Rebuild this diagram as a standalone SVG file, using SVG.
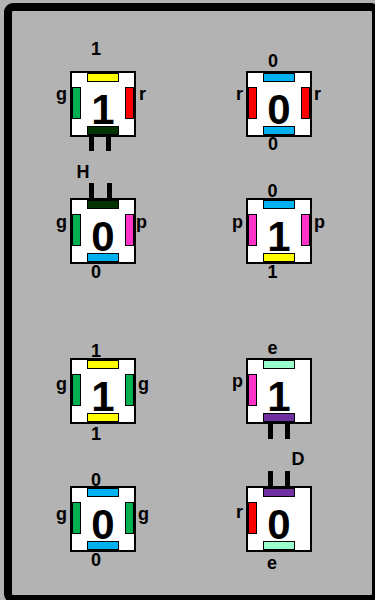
<svg xmlns="http://www.w3.org/2000/svg" width="375" height="600" viewBox="0 0 375 600">
<style>
.box{fill:#fff;stroke:#000;stroke-width:2}
.bar{stroke:#000;stroke-width:1}
.leg{fill:#000}
.lbl{font-family:"Liberation Sans",Arial,sans-serif;font-weight:bold;font-size:18px;fill:#000}
.big{font-family:"Liberation Sans",Arial,sans-serif;font-weight:bold;font-size:42px;fill:#000;text-anchor:middle}
.m{text-anchor:middle}.e{text-anchor:end}.s{text-anchor:start}
.y{fill:#ffff00}.r{fill:#ff0000}.g{fill:#00b050}.dg{fill:#003300}.b{fill:#00b0f0}.p{fill:#ff33cc}.mi{fill:#99ffcc}.pu{fill:#7030a0}
</style>
<defs>
<rect id="tb" class="bar" x="17.5" y="2.5" width="31" height="8"/>
<rect id="bb" class="bar" x="17.5" y="55.5" width="31" height="8"/>
<rect id="lb" class="bar" x="2.5" y="16.5" width="8" height="31"/>
<rect id="rb" class="bar" x="55.5" y="16.5" width="8" height="31"/>
</defs>
<rect x="0" y="0" width="375" height="600" fill="#b3b3b3"/>
<rect x="8" y="7" width="368" height="592" rx="5" fill="#b3b3b3" stroke="#000" stroke-width="8"/>
<g id="connectors"></g>
<g id="n1" transform="translate(70,71)">
<rect class="box" x="1" y="1" width="64" height="64"/>
<use href="#tb" class="y"/><use href="#lb" class="g"/><use href="#rb" class="r"/><use href="#bb" class="dg"/>
<rect class="leg" x="19" y="65" width="5" height="15"/><rect class="leg" x="36" y="65" width="5" height="15"/>
<text class="big" x="33" y="53">1</text>
<text class="lbl m" x="26" y="-16">1</text>
<text class="lbl e" x="-3" y="29">g</text>
<text class="lbl s" x="69" y="29">r</text>
</g>
<g id="n2" transform="translate(246,71)">
<rect class="box" x="1" y="1" width="64" height="64"/>
<use href="#tb" class="b"/><use href="#lb" class="r"/><use href="#rb" class="r"/><use href="#bb" class="b"/>
<text class="big" x="33" y="53">0</text>
<text class="lbl m" x="27" y="-4">0</text>
<text class="lbl m" x="27" y="79">0</text>
<text class="lbl e" x="-3" y="29">r</text>
<text class="lbl s" x="68" y="29">r</text>
</g>
<g id="n3" transform="translate(70,198)">
<rect class="box" x="1" y="1" width="64" height="64"/>
<use href="#tb" class="dg"/><use href="#lb" class="g"/><use href="#rb" class="p"/><use href="#bb" class="b"/>
<rect class="leg" x="19" y="-15" width="5" height="16"/><rect class="leg" x="37" y="-15" width="5" height="16"/>
<text class="big" x="33" y="53">0</text>
<text class="lbl m" x="13" y="-20">H</text>
<text class="lbl m" x="26" y="80">0</text>
<text class="lbl e" x="-3" y="30">g</text>
<text class="lbl s" x="66" y="30">p</text>
</g>
<g id="n4" transform="translate(246,198)">
<rect class="box" x="1" y="1" width="64" height="64"/>
<use href="#tb" class="b"/><use href="#lb" class="p"/><use href="#rb" class="p"/><use href="#bb" class="y"/>
<text class="big" x="33" y="53">1</text>
<text class="lbl m" x="26.5" y="-1">0</text>
<text class="lbl m" x="26.5" y="80">1</text>
<text class="lbl e" x="-3" y="30">p</text>
<text class="lbl s" x="68" y="30">p</text>
</g>
<g id="n5" transform="translate(70,358)">
<rect class="box" x="1" y="1" width="64" height="64"/>
<use href="#tb" class="y"/><use href="#lb" class="g"/><use href="#rb" class="g"/><use href="#bb" class="y"/>
<text class="big" x="33" y="53">1</text>
<text class="lbl m" x="26" y="-1">1</text>
<text class="lbl m" x="26" y="82">1</text>
<text class="lbl e" x="-3" y="32">g</text>
<text class="lbl s" x="68" y="32">g</text>
</g>
<g id="n6" transform="translate(246,358)">
<rect class="box" x="1" y="1" width="64" height="64"/>
<use href="#tb" class="mi"/><use href="#lb" class="p"/><use href="#bb" class="pu"/>
<rect class="leg" x="22" y="65" width="5" height="16"/><rect class="leg" x="39" y="65" width="5" height="16"/>
<text class="big" x="33" y="53">1</text>
<text class="lbl m" x="26.5" y="-4">e</text>
<text class="lbl e" x="-3" y="29">p</text>
</g>
<g id="n7" transform="translate(70,486)">
<rect class="box" x="1" y="1" width="64" height="64"/>
<use href="#tb" class="b"/><use href="#lb" class="g"/><use href="#rb" class="g"/><use href="#bb" class="b"/>
<text class="big" x="33" y="53">0</text>
<text class="lbl m" x="26" y="0">0</text>
<text class="lbl m" x="26" y="80">0</text>
<text class="lbl e" x="-3" y="34">g</text>
<text class="lbl s" x="68" y="34">g</text>
</g>
<g id="n8" transform="translate(246,486)">
<rect class="box" x="1" y="1" width="64" height="64"/>
<use href="#tb" class="pu"/><use href="#lb" class="r"/><use href="#bb" class="mi"/>
<rect class="leg" x="22" y="-15" width="5" height="16"/><rect class="leg" x="39" y="-15" width="5" height="16"/>
<text class="big" x="33" y="53">0</text>
<text class="lbl m" x="52" y="-21">D</text>
<text class="lbl e" x="-3" y="32">r</text>
<text class="lbl m" x="26" y="83">e</text>
</g>
</svg>
